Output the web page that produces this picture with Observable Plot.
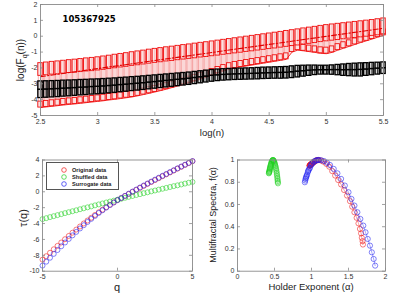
<!DOCTYPE html>
<html>
<head>
<meta charset="utf-8">
<script src="https://cdn.jsdelivr.net/npm/d3@7"></script>
<script src="https://cdn.jsdelivr.net/npm/@observablehq/plot@0.6"></script>
<style>
  html, body { margin: 0; padding: 0; background: #fff; }
  #wrap { position: relative; width: 399px; height: 299px; overflow: hidden; background: #fff; font-family: "Liberation Sans", Arial, sans-serif; }
  .pan { position: absolute; }
  .lab { position: absolute; white-space: nowrap; color: #222; transform: translate(-50%, -50%); line-height: 1; }
  .rot { transform: translate(-50%, -50%) rotate(-90deg); }
  #legend { position: absolute; left: 46px; top: 162px; width: 73px; height: 28px; border: 0.8px solid #555; background: #fff; box-sizing: border-box; }
  .lrow { position: absolute; left: 0; font-weight: bold; font-size: 5.6px; color: #222; white-space: nowrap; }
  .lrow svg { position: absolute; left: 13px; top: -3px; }
  .lrow span { position: absolute; left: 25px; top: -3px; line-height: 6px; }
</style>
</head>
<body>
<div id="wrap">
  <div id="p1" class="pan" style="left:0;top:0"></div>
  <div id="p2" class="pan" style="left:0;top:150px"></div>
  <div id="p3" class="pan" style="left:200px;top:150px"></div>

  <div class="lab" style="left:212px;top:133px;font-size:9.5px">log(n)</div>
  <div class="lab rot" style="left:22px;top:60px;font-size:10px">log(F<sub style="font-size:7px">q</sub>(n))</div>
  <div class="lab" style="left:117px;top:287px;font-size:11px">q</div>
  <div class="lab rot" style="left:23px;top:218px;font-size:11px">τ(q)</div>
  <div class="lab" style="left:311px;top:287px;font-size:9.5px">Holder Exponent (α)</div>
  <div class="lab rot" style="left:213px;top:215px;font-size:9px">Multifractal Spectra, f(α)</div>

  <div id="legend"></div>
</div>
<script>
// ---------- Top panel: log(Fq(n)) vs log(n) ----------
const sampleId = "105367925";
const logN = [
  2.50,2.55,2.60,2.65,2.70,2.75,2.80,2.85,2.90,2.95,
  3.00,3.05,3.10,3.15,3.20,3.25,3.30,3.35,3.40,3.45,
  3.50,3.55,3.60,3.65,3.70,3.75,3.80,3.85,3.90,3.95,
  4.00,4.05,4.10,4.15,4.20,4.25,4.30,4.35,4.40,4.45,
  4.50,4.55,4.60,4.65,4.70,4.75,4.80,4.85,4.90,4.95,
  5.00,5.05,5.10,5.15,5.20,5.25,5.30,5.35,5.40,5.45,
  5.50];
// original data, largest q (top of red band)
const redHi = [
  -1.70,-1.66,-1.62,-1.59,-1.55,-1.51,-1.48,-1.44,-1.40,-1.37,
  -1.33,-1.28,-1.23,-1.17,-1.12,-1.07,-1.01,-0.96,-0.91,-0.85,
  -0.80,-0.75,-0.70,-0.66,-0.61,-0.56,-0.52,-0.47,-0.42,-0.38,
  -0.33,-0.28,-0.23,-0.18,-0.13,-0.08,-0.03,0.02,0.07,0.12,
  0.17,0.22,0.27,0.33,0.38,0.43,0.49,0.54,0.59,0.65,
  0.70,0.74,0.78,0.82,0.86,0.90,0.94,0.98,1.02,1.07,
  1.12];
// original data, lower edge of the dense positive-q cluster
const redMid = [
  -2.50,-2.46,-2.42,-2.40,-2.36,-2.32,-2.30,-2.26,-2.22,-2.20,
  -2.16,-2.12,-2.07,-2.02,-1.97,-1.93,-1.87,-1.83,-1.78,-1.73,
  -1.68,-1.64,-1.59,-1.56,-1.51,-1.47,-1.43,-1.39,-1.34,-1.31,
  -1.26,-1.22,-1.17,-1.13,-1.08,-1.04,-0.99,-0.95,-0.90,-0.86,
  -0.81,-0.77,-0.72,-0.67,-0.62,-0.58,-0.52,-0.48,-0.43,-0.37,
  -0.32,-0.28,-0.24,-0.19,-0.15,-0.11,-0.07,-0.03,0.02,0.06,
  0.12];
// original data, smallest q (bottom of red band)
const redLo = [
  -4.50,-4.46,-4.42,-4.38,-4.34,-4.30,-4.27,-4.23,-4.19,-4.15,
  -4.11,-4.07,-4.02,-3.98,-3.93,-3.88,-3.83,-3.76,-3.68,-3.60,
  -3.52,-3.43,-3.34,-3.24,-3.14,-3.04,-2.93,-2.82,-2.70,-2.58,
  -2.45,-2.32,-2.20,-2.08,-2.00,-1.94,-1.88,-1.82,-1.76,-1.70,
  -1.64,-1.58,-1.52,-1.46,-1.00,-0.88,-0.92,-0.97,-1.02,-1.08,
  -1.10,-1.02,-0.88,-0.76,-0.64,-0.52,-0.40,-0.29,-0.18,-0.06,
  0.05];
// shuffled data band (black)
const blackHi = [
  -2.85,-2.84,-2.83,-2.82,-2.80,-2.79,-2.78,-2.76,-2.75,-2.73,
  -2.72,-2.70,-2.68,-2.66,-2.63,-2.61,-2.58,-2.56,-2.53,-2.50,
  -2.47,-2.44,-2.41,-2.38,-2.35,-2.32,-2.29,-2.25,-2.21,-2.17,
  -2.13,-2.10,-2.08,-2.06,-2.05,-2.04,-2.03,-2.02,-2.00,-1.98,
  -1.97,-1.96,-1.95,-1.94,-1.90,-1.87,-1.86,-1.85,-1.85,-1.86,
  -1.86,-1.84,-1.81,-1.78,-1.75,-1.73,-1.71,-1.70,-1.68,-1.67,
  -1.65];
const blackLo = [
  -3.90,-3.88,-3.86,-3.84,-3.81,-3.79,-3.76,-3.73,-3.71,-3.68,
  -3.66,-3.63,-3.60,-3.57,-3.53,-3.50,-3.46,-3.43,-3.39,-3.35,
  -3.31,-3.27,-3.23,-3.19,-3.15,-3.11,-3.07,-3.02,-2.97,-2.92,
  -2.87,-2.83,-2.80,-2.78,-2.76,-2.75,-2.74,-2.73,-2.72,-2.70,
  -2.69,-2.68,-2.68,-2.67,-2.64,-2.60,-2.55,-2.50,-2.45,-2.42,
  -2.42,-2.43,-2.46,-2.50,-2.52,-2.54,-2.54,-2.50,-2.46,-2.42,
  -2.38];
// dash-dot fit line
const fitX = [2.5, 5.5];
const fitY = [-2.55, 0.50];
const topXTicks = [2.5, 3, 3.5, 4, 4.5, 5, 5.5];
const topYTicks = [-5, -4, -3, -2, -1, 0, 1, 2];

// ---------- Bottom left: tau(q) ----------
const qVals = [-5,-4.75,-4.5,-4.25,-4,-3.75,-3.5,-3.25,-3,-2.75,-2.5,-2.25,-2,-1.75,-1.5,-1.25,-1,-0.75,-0.5,-0.25,
  0,0.25,0.5,0.75,1,1.25,1.5,1.75,2,2.25,2.5,2.75,3,3.25,3.5,3.75,4,4.25,4.5,4.75,5];
const tauOriginal = [-8.55,-8.11,-7.68,-7.24,-6.81,-6.39,-5.97,-5.56,-5.15,-4.76,-4.37,-3.99,-3.62,-3.27,-2.92,-2.58,-2.26,-1.94,-1.63,-1.34,
  -1.05,-0.79,-0.53,-0.27,-0.01,0.24,0.49,0.74,0.99,1.23,1.47,1.71,1.96,2.19,2.43,2.67,2.91,3.14,3.38,3.61,3.85];
const tauShuffled = [-3.44,-3.32,-3.19,-3.07,-2.94,-2.82,-2.69,-2.57,-2.45,-2.33,-2.20,-2.08,-1.96,-1.84,-1.71,-1.59,-1.47,-1.35,-1.23,-1.12,
  -1.00,-0.88,-0.76,-0.64,-0.53,-0.41,-0.30,-0.18,-0.07,0.05,0.16,0.27,0.38,0.49,0.60,0.71,0.81,0.92,1.03,1.14,1.24];
const tauSurrogate = [-9.30,-8.80,-8.31,-7.82,-7.33,-6.86,-6.39,-5.94,-5.49,-5.05,-4.62,-4.21,-3.80,-3.41,-3.04,-2.67,-2.33,-1.99,-1.67,-1.35,
  -1.05,-0.78,-0.51,-0.24,0.02,0.28,0.54,0.79,1.04,1.28,1.53,1.77,2.01,2.24,2.48,2.71,2.95,3.18,3.41,3.64,3.87];
const tauXTicks = [-5, 0, 5];
const tauYTicks = [-10, -8, -6, -4, -2, 0, 2, 4];

// ---------- Bottom right: f(alpha) ----------
const alphaOriginal = [1.695,1.69,1.68,1.67,1.655,1.635,1.61,1.58,1.55,1.52,1.48,1.44,1.40,1.36,1.32,1.28,1.24,1.20,1.16,1.13,1.10,
  1.09,1.08,1.07,1.06,1.05,1.04,1.03,1.02,1.015,1.01,1.005,1.0,0.995,0.99,0.987,0.984,0.981,0.978,0.975,0.972];
const fOriginal = [0.24,0.27,0.30,0.34,0.38,0.43,0.48,0.53,0.58,0.63,0.68,0.73,0.78,0.82,0.86,0.90,0.94,0.965,0.985,0.995,1.00,
  1.0,0.999,0.997,0.995,0.99,0.985,0.98,0.977,0.973,0.97,0.967,0.965,0.962,0.96,0.958,0.956,0.954,0.952,0.95,0.948];
const alphaShuffled = [0.547,0.545,0.543,0.541,0.539,0.536,0.533,0.53,0.526,0.522,0.518,0.514,0.51,0.506,0.502,0.498,0.494,0.49,0.487,0.483,0.48,
  0.477,0.473,0.47,0.466,0.462,0.458,0.455,0.452,0.449,0.446,0.443,0.44,0.438,0.436,0.434,0.432,0.43,0.428,0.426,0.424];
const fShuffled = [0.79,0.80,0.812,0.826,0.84,0.855,0.87,0.885,0.90,0.915,0.928,0.94,0.95,0.96,0.97,0.978,0.985,0.99,0.995,0.998,1.0,
  0.999,0.997,0.993,0.988,0.982,0.975,0.967,0.96,0.952,0.945,0.937,0.93,0.922,0.915,0.908,0.90,0.895,0.89,0.885,0.88];
const alphaSurrogate = [1.86,1.84,1.815,1.79,1.76,1.73,1.70,1.66,1.62,1.58,1.54,1.50,1.45,1.40,1.35,1.30,1.25,1.21,1.17,1.13,1.10,
  1.09,1.07,1.06,1.04,1.03,1.01,1.00,0.99,0.98,0.97,0.96,0.955,0.95,0.94,0.935,0.93,0.925,0.92,0.915,0.91];
const fSurrogate = [0.05,0.11,0.17,0.23,0.29,0.35,0.41,0.47,0.53,0.59,0.65,0.71,0.77,0.83,0.88,0.92,0.955,0.975,0.99,0.998,1.00,
  1.0,0.998,0.995,0.99,0.98,0.97,0.96,0.95,0.93,0.92,0.91,0.90,0.89,0.87,0.86,0.85,0.84,0.83,0.815,0.80];
const faXTicks = [0, 0.5, 1, 1.5, 2];
const faYTicks = [0, 0.2, 0.4, 0.6, 0.8, 1];

const seriesNames = ["Original data", "Shuffled data", "Surrogate data"];
const seriesColors = ["#f01818", "#22d022", "#2020f0"];

// ---------- helpers ----------
const fmt = d => String(d);
const frameColor = "#8a8a8a";
function inTicks(xt, yt, W, H) {
  return [
    Plot.tickX(xt, {x: d => d, stroke: frameColor, strokeWidth: 0.8, insetTop: H - 3}),
    Plot.tickX(xt, {x: d => d, stroke: frameColor, strokeWidth: 0.8, insetBottom: H - 3}),
    Plot.tickY(yt, {y: d => d, stroke: frameColor, strokeWidth: 0.8, insetRight: W - 3}),
    Plot.tickY(yt, {y: d => d, stroke: frameColor, strokeWidth: 0.8, insetLeft: W - 3})
  ];
}
const baseStyle = {fontFamily: "'Liberation Sans', Arial, sans-serif", fontSize: "7px", color: "#333", background: "none", overflow: "visible"};

// ---------- Top plot ----------
const rows = logN.map((x, i) => ({
  x, hi: redHi[i], mid: redMid[i], lo: redLo[i],
  bhi: blackHi[i], blo: blackLo[i], bmid: (blackHi[i] + blackLo[i]) / 2
}));
const fitRows = fitX.map((x, i) => ({x, y: fitY[i]}));
{
  const W = 399 - 40 - 16, H = 140 - 4 - 25;
  const p = Plot.plot({
    width: 399, height: 140,
    marginLeft: 40, marginRight: 16, marginTop: 4, marginBottom: 25,
    x: {domain: [2.5, 5.5]},
    y: {domain: [-5, 2]},
    style: baseStyle,
    marks: [
      Plot.areaY(rows, {x: "x", y1: "lo", y2: "hi", fill: "#fbd3d3", fillOpacity: 0.9}),
      Plot.ruleX(rows, {x: "x", y1: "lo", y2: "mid", stroke: "#f07a7a", strokeWidth: 0.6, dx: -2.2}),
      Plot.ruleX(rows, {x: "x", y1: "lo", y2: "mid", stroke: "#f7a5a5", strokeWidth: 0.6, dx: 2.2}),
      Plot.rect(rows, {x1: "x", x2: "x", y1: "lo", y2: "lo", insetLeft: -2.2, insetRight: -2.2, insetTop: -6, stroke: "#f01010", strokeWidth: 0.9, fill: "#fbe0e0"}),
      Plot.line(rows, {x: "x", y: "lo", stroke: "#f01010", strokeWidth: 0.9}),
      Plot.rect(rows, {x1: "x", x2: "x", y1: "mid", y2: "hi", insetLeft: -2.2, insetRight: -2.2, stroke: "#f00000", strokeWidth: 1, strokeOpacity: 0.9, fill: "#fde6e6"}),
      Plot.ruleX(rows, {x: "x", y1: "mid", y2: "hi", stroke: "#f59a9a", strokeWidth: 0.6}),
      Plot.line(fitRows, {x: "x", y: "y", stroke: "#e00000", strokeWidth: 1.1, strokeDasharray: "5,2,1.5,2"}),
      Plot.rect(rows, {x1: "x", x2: "x", y1: "blo", y2: "bmid", insetLeft: -2.2, insetRight: -2.2, stroke: "#000", strokeWidth: 1.3, fill: "#bbb", fillOpacity: 0.6}),
      Plot.rect(rows, {x1: "x", x2: "x", y1: "bmid", y2: "bhi", insetLeft: -2.2, insetRight: -2.2, stroke: "#000", strokeWidth: 1.3, fill: "#bbb", fillOpacity: 0.6}),
      Plot.ruleX(rows, {x: "x", y1: "blo", y2: "bhi", stroke: "#000", strokeWidth: 1}),
      Plot.text([sampleId], {frameAnchor: "top-left", dx: 22, dy: 11, text: d => d, fontWeight: "bold", fontSize: 8.5, fill: "#000", textAnchor: "start", fontFamily: "'DejaVu Sans', sans-serif"}),
      Plot.frame({stroke: frameColor, strokeWidth: 0.9}),
      ...inTicks(topXTicks, topYTicks, W, H),
      Plot.axisX({ticks: topXTicks, tickSize: 0, tickPadding: 4, tickFormat: fmt, label: null}),
      Plot.axisY({ticks: topYTicks, tickSize: 0, tickPadding: 3, tickFormat: fmt, label: null})
    ]
  });
  document.getElementById("p1").appendChild(p);
}

// ---------- Bottom left plot ----------
{
  const W = 200 - 42 - 8, H = 149 - 9.5 - 28.3;
  const tauSets = [tauOriginal, tauShuffled, tauSurrogate];
  const dotMarks = tauSets.map((arr, k) =>
    Plot.dot(qVals.map((q, i) => ({q, t: arr[i]})), {x: "q", y: "t", r: 2.5, stroke: seriesColors[k], strokeWidth: 0.7, fill: "none", strokeOpacity: 0.8})
  );
  const p = Plot.plot({
    width: 200, height: 149,
    marginLeft: 42, marginRight: 8, marginTop: 9.5, marginBottom: 28.3,
    x: {domain: [-5, 5]},
    y: {domain: [-10, 4]},
    style: baseStyle,
    marks: [
      ...dotMarks,
      Plot.frame({stroke: frameColor, strokeWidth: 0.9}),
      ...inTicks(tauXTicks, tauYTicks, W, H),
      Plot.axisX({ticks: tauXTicks, tickSize: 0, tickPadding: 3, tickFormat: fmt, label: null}),
      Plot.axisY({ticks: tauYTicks, tickSize: 0, tickPadding: 3, tickFormat: fmt, label: null})
    ]
  });
  document.getElementById("p2").appendChild(p);
}

// ---------- Bottom right plot ----------
{
  const W = 199 - 37 - 14, H = 149 - 9.5 - 28.3;
  const sets = [[alphaOriginal, fOriginal], [alphaShuffled, fShuffled], [alphaSurrogate, fSurrogate]];
  const marks = [];
  sets.forEach(([a, f], k) => {
    const data = a.map((v, i) => ({a: v, f: f[i]}));
    marks.push(Plot.line(data, {x: "a", y: "f", stroke: seriesColors[k], strokeWidth: 0.5, strokeOpacity: 0.8}));
    marks.push(Plot.dot(data, {x: "a", y: "f", r: 2.6, stroke: seriesColors[k], strokeWidth: 0.7, fill: "none", strokeOpacity: 0.8}));
  });
  const p = Plot.plot({
    width: 199, height: 149,
    marginLeft: 37, marginRight: 14, marginTop: 9.5, marginBottom: 28.3,
    x: {domain: [0, 2]},
    y: {domain: [0, 1]},
    style: baseStyle,
    marks: [
      ...marks,
      Plot.frame({stroke: frameColor, strokeWidth: 0.9}),
      ...inTicks(faXTicks, faYTicks, W, H),
      Plot.axisX({ticks: faXTicks, tickSize: 0, tickPadding: 3, tickFormat: fmt, label: null}),
      Plot.axisY({ticks: faYTicks, tickSize: 0, tickPadding: 3, tickFormat: fmt, label: null})
    ]
  });
  document.getElementById("p3").appendChild(p);
}

// ---------- Legend ----------
{
  const lg = document.getElementById("legend");
  const tops = [6.5, 13.8, 21.2];
  seriesNames.forEach((name, k) => {
    const row = document.createElement("div");
    row.className = "lrow";
    row.style.top = tops[k] + "px";
    row.innerHTML = `<svg width="8" height="6" viewBox="0 0 8 6"><circle cx="4" cy="3" r="2.3" fill="none" stroke="${seriesColors[k]}" stroke-width="0.7"/></svg><span>${name}</span>`;
    lg.appendChild(row);
  });
}
</script>
</body>
</html>
